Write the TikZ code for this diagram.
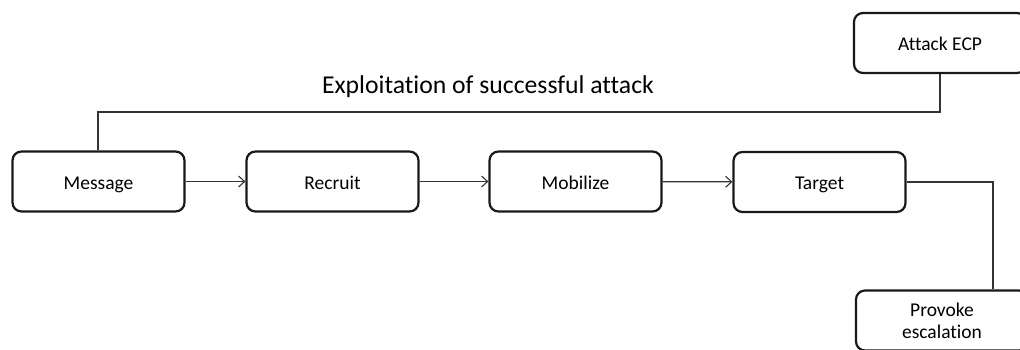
\documentclass[tikz,border=0pt]{standalone}
\usepackage{fontspec}
\setmainfont{Carlito}[Ligatures={NoCommon,NoContextual}]
\usetikzlibrary{arrows.meta,calc}

\begin{document}
\begin{tikzpicture}[x=1pt,y=-1pt,
  boxbase/.style={draw=black!90, line width=2.2pt, rounded corners=9pt,
    minimum width=172pt, minimum height=60pt, align=center,
    font=\fontsize{19.5}{22}\selectfont, inner sep=0pt},
  stagebox/.style={boxbase, text height=16pt, text depth=1pt},
  flow/.style={draw=black!80, line width=1.2pt,
    -{Straight Barb[length=6pt,width=11pt,line width=1.1pt]}},
  link/.style={draw=black!80, line width=1.2pt}
]
\useasboundingbox (0,0) rectangle (1020,349);
\clip (0,0) rectangle (1020,349);

% main chain of stages
\node[stagebox] (msg) at (98.5,181.5) {Message};
\node[stagebox] (rec) at (332.5,181.5) {Recruit};
\node[stagebox] (mob) at (575.5,181.5) {Mobilize};
\node[stagebox] (tgt) at (819.5,182) {Target};

% branch boxes at the right edge
\node[stagebox] (ecp) at (940,43) {Attack ECP};
\node[boxbase] (esc) at (942,320.5) {Provoke\\escalation};

% heading of the feedback loop
\node[font=\fontsize{25.7}{30}\selectfont, anchor=base] (title) at (488,93)
  {Exploitation of successful attack};

% forward arrows
\draw[flow] (msg) -- (rec);
\draw[flow] (rec) -- (mob);
\draw[flow] (mob) -- (tgt);

% feedback line from Attack ECP back to Message
\coordinate (loop) at (98,112);
\draw[link] (ecp.south) |- (loop) -- (msg.north -| loop);

% line from Target down to escalation
\coordinate (elbow) at (993,182);
\draw[link] (tgt.east) -- (elbow) -- (elbow |- esc.north);
\end{tikzpicture}
\end{document}
